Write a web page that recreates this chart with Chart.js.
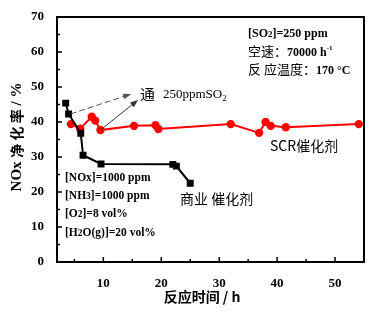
<!DOCTYPE html>
<html>
<head>
<meta charset="utf-8">
<script src="https://cdn.jsdelivr.net/npm/chart.js@4/dist/chart.umd.min.js"></script>
<style>
  html, body { margin: 0; padding: 0; background: #fff; }
</style>
</head>
<body>
<canvas id="chart" width="389" height="325"></canvas>
<script>
// data
const commercialTime = [3.5, 4.0, 6.1, 6.5, 9.6, 22.0, 22.6, 25.0];
const commercialRate = [45.4, 42.3, 36.8, 30.5, 28.0, 27.9, 27.4, 22.5];
const scrTime = [4.4, 6.0, 8.0, 8.6, 9.5, 15.3, 19.0, 19.5, 32.0, 36.9, 38.0, 38.9, 41.5, 54.1];
const scrRate = [39.4, 38.1, 41.5, 40.4, 37.7, 38.9, 39.1, 38.0, 39.4, 36.9, 40.0, 38.9, 38.5, 39.4];
const xTicks = [10, 20, 30, 40, 50];
const xMinorTicks = [5, 15, 25, 35, 45];
const yTicks = [0, 10, 20, 30, 40, 50, 60, 70];
const yMinorTicks = [5, 15, 25, 35, 45, 55, 65];

const serif = '"Liberation Serif", "Times New Roman", serif';
const cjk = '"Noto Sans CJK SC", sans-serif';

function toPoints(xs, ys) {
    return xs.map((x, i) => ({ x: x, y: ys[i] }));
}

function arrow(ctx, x1, y1, x2, y2, dashed, color) {
    ctx.save();
    ctx.strokeStyle = color;
    ctx.fillStyle = color;
    ctx.lineWidth = 1;
    if (dashed) ctx.setLineDash([6, 3]);
    const a = Math.atan2(y2 - y1, x2 - x1);
    ctx.beginPath();
    ctx.moveTo(x1, y1);
    ctx.lineTo(x2 - 6 * Math.cos(a), y2 - 6 * Math.sin(a));
    ctx.stroke();
    ctx.setLineDash([]);
    ctx.beginPath();
    ctx.moveTo(x2, y2);
    ctx.lineTo(x2 - 8 * Math.cos(a) + 3 * Math.sin(a), y2 - 8 * Math.sin(a) - 3 * Math.cos(a));
    ctx.lineTo(x2 - 8 * Math.cos(a) - 3 * Math.sin(a), y2 - 8 * Math.sin(a) + 3 * Math.cos(a));
    ctx.closePath();
    ctx.fill();
    ctx.restore();
}

// text with a lowered/raised small part, e.g. SO2 or h-1
function textWidth(ctx, parts) {
    let w = 0;
    parts.forEach(p => { ctx.font = p.font; w += ctx.measureText(p.t).width; });
    return w;
}

function richText(ctx, parts, x, y) {
    ctx.textAlign = 'left';
    let cx = x;
    parts.forEach(p => {
        ctx.font = p.font;
        ctx.fillText(p.t, cx, y + (p.dy || 0));
        cx += ctx.measureText(p.t).width;
    });
}

const framePlugin = {
    id: 'frame',
    beforeDatasetsDraw(chart) {
        const ctx = chart.ctx;
        const area = chart.chartArea;
        const xs = chart.scales.x;
        const ys = chart.scales.y;
        ctx.save();
        ctx.strokeStyle = '#000';
        ctx.lineWidth = 1.5;
        xTicks.forEach(v => {
            const p = xs.getPixelForValue(v);
            ctx.beginPath(); ctx.moveTo(p, area.bottom); ctx.lineTo(p, area.bottom - 5); ctx.stroke();
        });
        xMinorTicks.forEach(v => {
            const p = xs.getPixelForValue(v);
            ctx.beginPath(); ctx.moveTo(p, area.bottom); ctx.lineTo(p, area.bottom - 3); ctx.stroke();
        });
        yTicks.forEach(v => {
            const p = ys.getPixelForValue(v);
            ctx.beginPath(); ctx.moveTo(area.left, p); ctx.lineTo(area.left + 5, p); ctx.stroke();
        });
        yMinorTicks.forEach(v => {
            const p = ys.getPixelForValue(v);
            ctx.beginPath(); ctx.moveTo(area.left, p); ctx.lineTo(area.left + 3, p); ctx.stroke();
        });
        ctx.lineWidth = 2;
        ctx.strokeRect(area.left, area.top, area.right - area.left, area.bottom - area.top);
        ctx.restore();
    },
    afterDatasetsDraw(chart) {
        const ctx = chart.ctx;
        const xs = chart.scales.x;
        const ys = chart.scales.y;
        const px = v => xs.getPixelForValue(v);
        const py = v => ys.getPixelForValue(v);

        // arrows to the SO2 note
        arrow(ctx, px(commercialTime[1]) + 2, py(commercialRate[1]), px(14.8), py(48.0), true, '#555');
        arrow(ctx, px(scrTime[4]), py(scrRate[4]), px(16.0), py(46.3), false, '#333');

        ctx.save();
        ctx.fillStyle = '#000';
        ctx.textBaseline = 'alphabetic';

        ctx.font = '15px ' + cjk;
        ctx.fillText('通', 140, 100);
        richText(ctx, [
            { t: '250ppmSO', font: '13px ' + serif },
            { t: '2', font: '9px ' + serif, dy: 3 }
        ], 163, 98);

        // conditions, top right
        richText(ctx, [
            { t: '[SO', font: 'bold 12px ' + serif },
            { t: '2', font: 'bold 9px ' + serif },
            { t: ']=250 ppm', font: 'bold 12px ' + serif }
        ], 248, 37);
        richText(ctx, [
            { t: '空速：', font: '13px ' + cjk },
            { t: '70000 h', font: 'bold 12px ' + serif },
            { t: '-1', font: 'bold 7px ' + serif, dy: -6 }
        ], 248, 56);
        richText(ctx, [
            { t: '反 应温度：', font: '13px ' + cjk },
            { t: '170 °C', font: 'bold 12px ' + serif }
        ], 248, 74);

        // conditions, lower left
        richText(ctx, [{ t: '[NOx]=1000 ppm', font: 'bold 11.5px ' + serif }], 65, 181);
        richText(ctx, [
            { t: '[NH', font: 'bold 11.5px ' + serif },
            { t: '3', font: 'bold 9.5px ' + serif },
            { t: ']=1000 ppm', font: 'bold 11.5px ' + serif }
        ], 65, 199);
        richText(ctx, [
            { t: '[O', font: 'bold 11.5px ' + serif },
            { t: '2', font: 'bold 9.5px ' + serif },
            { t: ']=8 vol%', font: 'bold 11.5px ' + serif }
        ], 65, 217);
        richText(ctx, [
            { t: '[H', font: 'bold 11.5px ' + serif },
            { t: '2', font: 'bold 9.5px ' + serif },
            { t: 'O(g)]=20 vol%', font: 'bold 11.5px ' + serif }
        ], 65, 236);

        // series labels
        ctx.font = '14px ' + cjk;
        ctx.fillText('SCR催化剂', 270, 151);
        ctx.fillText('商业 催化剂', 180, 204);

        // axis titles
        ctx.textBaseline = 'middle';
        ctx.textAlign = 'center';
        ctx.font = 'bold 14px ' + cjk;
        ctx.fillText('反应时间 / h', 202, 297);

        const yTitle = [
            { t: 'NOx ', font: 'bold 15px ' + serif },
            { t: '净 化 率', font: 'bold 14px ' + cjk },
            { t: ' / %', font: 'bold 15px ' + serif }
        ];
        const w = textWidth(ctx, yTitle);
        ctx.translate(17, 137);
        ctx.rotate(-Math.PI / 2);
        richText(ctx, yTitle, -w / 2, 0);
        ctx.restore();
    }
};

new Chart(document.getElementById('chart'), {
    type: 'scatter',
    data: {
        datasets: [{
            label: '商业催化剂',
            data: toPoints(commercialTime, commercialRate),
            showLine: true,
            borderColor: '#000',
            backgroundColor: '#000',
            borderWidth: 2,
            pointStyle: 'rect',
            pointRadius: 3.5,
            pointHoverRadius: 3.5
        }, {
            label: 'SCR催化剂',
            data: toPoints(scrTime, scrRate),
            showLine: true,
            borderColor: '#ff0000',
            backgroundColor: '#ff0000',
            borderWidth: 2,
            pointStyle: 'circle',
            pointRadius: 3.2,
            pointHoverRadius: 3.2
        }]
    },
    options: {
        responsive: false,
        animation: false,
        layout: { padding: { top: 17, right: 25, left: 0, bottom: 0 } },
        plugins: {
            legend: { display: false },
            tooltip: { enabled: false }
        },
        scales: {
            x: {
                type: 'linear',
                min: 2,
                max: 55,
                grid: { display: false },
                border: { display: false },
                afterBuildTicks: scale => { scale.ticks = xTicks.map(v => ({ value: v })); },
                afterFit: scale => { scale.height = 63; },
                ticks: {
                    color: '#000',
                    padding: 6,
                    maxRotation: 0,
                    font: { family: serif, size: 13, weight: 'bold' }
                }
            },
            y: {
                type: 'linear',
                min: 0,
                max: 70,
                grid: { display: false },
                border: { display: false },
                afterBuildTicks: scale => { scale.ticks = yTicks.map(v => ({ value: v })); },
                afterFit: scale => { scale.width = 57; },
                ticks: {
                    color: '#000',
                    padding: 5,
                    font: { family: serif, size: 13, weight: 'bold' }
                }
            }
        }
    },
    plugins: [framePlugin]
});
</script>
</body>
</html>
